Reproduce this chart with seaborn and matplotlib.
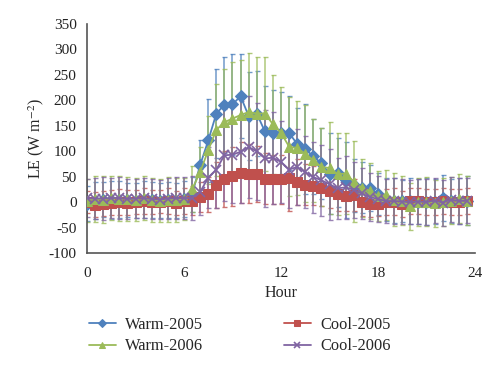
import numpy as np
import pandas as pd
import matplotlib
matplotlib.use("Agg")
import matplotlib.pyplot as plt
import seaborn as sns

hours = np.arange(0, 24, 0.5)

warm2005 = [-3, 3, 5, 4, 5, 4, 3, 5, 4, 3, 4, 3, 6, 15, 73, 121, 174, 191, 192, 208,
            169, 174, 139, 136, 136, 136, 114, 104, 90, 76, 56, 58, 44, 33, 28, 27,
            16, 5, 3, 2, 2, 1, 1, 1, 8, 2, 2, 3]
warm2006 = [3, 6, 5, 8, 7, 6, 5, 8, 4, 3, 5, 4, 6, 25, 59, 102, 142, 157, 164, 171,
            177, 174, 174, 153, 136, 109, 106, 95, 82, 69, 67, 55, 56, 40, 28, 22,
            12, 14, 5, 3, -8, 0, 1, -2, 0, 3, 7, 3]
cool2005 = [0, -5, -3, -1, 0, -1, 0, 2, 0, 1, 2, -2, 2, 3, 10, 15, 33, 45, 51, 58,
            56, 55, 46, 45, 45, 48, 39, 34, 32, 28, 22, 15, 12, 14, 1, -3,
            -3, 0, 1, -4, 2, 2, 0, 0, 2, 0, 0, 2]
cool2006 = [8, 7, 7, 8, 8, 6, 7, 8, 6, 5, 7, 8, 8, 8, 20, 48, 64, 92, 93, 99,
            108, 100, 86, 87, 79, 64, 69, 59, 49, 43, 35, 27, 29, 24, 17, 10,
            6, 2, 2, 1, 0, 1, 0, 3, -1, 5, 2, 3]

warm2005_err = [35, 36, 35, 37, 36, 34, 35, 36, 35, 34, 36, 35, 36, 35, 49, 82, 88, 95, 99, 83,
                86, 84, 90, 85, 80, 72, 70, 88, 74, 70, 80, 68, 75, 52, 50, 45,
                42, 42, 44, 42, 45, 44, 46, 44, 45, 44, 46, 48]
warm2006_err = [42, 45, 46, 44, 45, 43, 42, 44, 43, 42, 44, 43, 42, 45, 49, 67, 90, 105, 111, 109,
                116, 112, 112, 97, 90, 98, 92, 95, 82, 77, 90, 80, 79, 80, 57, 55,
                50, 50, 52, 48, 46, 47, 48, 46, 47, 46, 48, 48]
cool2005_err = [22, 24, 25, 24, 25, 24, 23, 25, 24, 23, 25, 24, 25, 28, 30, 35, 45, 55, 58, 60,
                58, 55, 50, 48, 48, 65, 45, 40, 38, 36, 34, 32, 30, 32, 28, 26,
                25, 25, 26, 25, 25, 26, 25, 25, 26, 25, 25, 26]
cool2006_err = [38, 40, 42, 40, 41, 39, 38, 40, 39, 38, 40, 41, 42, 44, 45, 60, 75, 90, 95, 100,
                100, 95, 95, 90, 80, 75, 75, 70, 70, 70, 70, 60, 62, 55, 50, 48,
                45, 44, 45, 44, 43, 44, 45, 44, 45, 44, 45, 44]

labels = ["Warm-2005", "Warm-2006", "Cool-2005", "Cool-2006"]
colors = ["#4F81BD", "#9BBB59", "#C0504D", "#8064A2"]
markers = ["D", "^", "s", "x"]
msizes = [6, 7.5, 7, 6.5]
values = [warm2005, warm2006, cool2005, cool2006]
errs = [warm2005_err, warm2006_err, cool2005_err, cool2006_err]

frames = []
for lab, v, e in zip(labels, values, errs):
    frames.append(pd.DataFrame({"Hour": hours, "LE": v, "err": e, "Series": lab}))
df = pd.concat(frames, ignore_index=True)

sns.set_style("white")
plt.rcParams["font.family"] = ["Liberation Serif", "DejaVu Serif"]
plt.rcParams["mathtext.fontset"] = "stix"
plt.rcParams["axes.unicode_minus"] = False

fig = plt.figure(figsize=(5.0, 3.68), dpi=100)
ax = fig.add_axes([0.174, 0.3125, 0.776, 0.6225])

draw_order = [0, 2, 1, 3]
for i in draw_order:
    sub = df[df["Series"] == labels[i]]
    ax.errorbar(sub["Hour"], sub["LE"], yerr=sub["err"], fmt="none",
                ecolor=colors[i], elinewidth=1.1, capsize=1.8, capthick=1.0,
                alpha=0.8, zorder=2)

for i in draw_order:
    sub = df[df["Series"] == labels[i]]
    mk = markers[i]
    kw = dict(markeredgecolor=colors[i], markerfacecolor=colors[i])
    if mk == "x":
        kw["markeredgewidth"] = 1.2
    sns.lineplot(data=sub, x="Hour", y="LE", ax=ax, color=colors[i],
                 marker=mk, markersize=msizes[i], linewidth=1.3,
                 label=labels[i], zorder=3, **kw)

ax.set_xlim(0, 24)
ax.set_ylim(-100, 350)
ax.set_xticks([0, 6, 12, 18, 24])
ax.set_yticks(np.arange(-100, 351, 50))
ax.tick_params(axis="both", labelsize=11, colors="#222222", length=4, width=1,
               direction="out")
ax.tick_params(axis="x", pad=6)
for s in ["top", "right"]:
    ax.spines[s].set_visible(False)
for s in ["left", "bottom"]:
    ax.spines[s].set_color("#555555")
    ax.spines[s].set_linewidth(1.2)
ax.set_xlabel("Hour", fontsize=11.5, labelpad=4)
ax.set_ylabel("LE (W m$^{-2}$)", fontsize=11.5, labelpad=2)

handles, labs = ax.get_legend_handles_labels()
order = [labs.index(l) for l in labels]
ax.legend([handles[k] for k in order], [labs[k] for k in order],
          ncol=2, loc="upper left", bbox_to_anchor=(-0.034, -0.215),
          frameon=False, fontsize=11.8, handlelength=1.65, handletextpad=0.6,
          columnspacing=4.9, labelspacing=0.32, markerscale=0.65)
fig.savefig("out.png", dpi=100)
